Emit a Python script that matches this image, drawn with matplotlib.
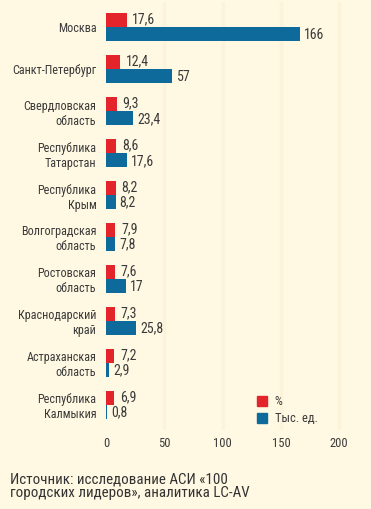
import matplotlib
matplotlib.use("Agg")
import matplotlib.pyplot as plt
import numpy as np
from matplotlib.patches import Patch

regions = ["Москва", "Санкт-Петербург", "Свердловская\nобласть", "Республика\nТатарстан",
           "Республика\nКрым", "Волгоградская\nобласть", "Ростовская\nобласть",
           "Краснодарский\nкрай", "Астраханская\nобласть", "Республика\nКалмыкия"]
pct = [17.6, 12.4, 9.3, 8.6, 8.2, 7.9, 7.6, 7.3, 7.2, 6.9]
units = [166, 57, 23.4, 17.6, 8.2, 7.8, 17, 25.8, 2.9, 0.8]
xticks = [0, 50, 100, 150, 200]
legend_labels = ["%", "Тыс. ед."]
source = "Источник: исследование АСИ «100\nгородских лидеров», аналитика LC-AV"

BG = "#FFF8E2"
RED = "#E3242B"
BLUE = "#0F6A9C"
TXT = "#3a3a3a"
plt.rcParams['font.family'] = ["Roboto Condensed", "DejaVu Sans"]

fig = plt.figure(figsize=(3.71, 5.09), dpi=100, facecolor=BG)
ax = fig.add_axes([106/371, 1 - 430/509, (345-106)/371, 428/509], facecolor=BG)

y = np.arange(len(regions))
h = 0.33
ax.barh(y - h/2, pct, height=h, color=RED, zorder=3)
ax.barh(y + h/2, units, height=h, color=BLUE, zorder=3)

for i, (p, u) in enumerate(zip(pct, units)):
    ax.text(p + 5, i - h/2 - 0.02, f"{p:g}".replace(".", ","), va="center", ha="left",
            fontsize=10, color=TXT)
    ax.text(u + 3.5, i + h/2 + 0.02, f"{u:g}".replace(".", ","), va="center", ha="left",
            fontsize=10, color=TXT)

ax.set_xlim(0, 205)
ax.set_ylim(len(regions) - 1 + 0.6, -0.6)
ax.set_yticks(y)
ax.set_yticklabels(regions, fontsize=8.7, color=TXT, linespacing=1.2)
ax.set_xticks(xticks)
ax.set_xticklabels([str(t) for t in xticks], fontsize=9, color=TXT)
ax.tick_params(length=0, axis="y", pad=7)
ax.tick_params(length=0, axis="x", pad=5)
for s in ax.spines.values():
    s.set_visible(False)
for t in xticks[1:]:
    ax.axvline(t, color="#FDF3DA", lw=2.5, zorder=1)

handles = [Patch(color=RED), Patch(color=BLUE)]
ax.legend(handles, legend_labels, loc="lower left", bbox_to_anchor=(0.585, -0.015),
          frameon=False, fontsize=9, handlelength=0.8, handleheight=0.8,
          handletextpad=0.6, labelspacing=0.3, labelcolor=TXT)

fig.text(10/371, 1 - 473/509, source, ha="left", va="top", fontsize=10.8,
         color="#333333", linespacing=0.9)

fig.savefig("out.png", dpi=100, facecolor=BG)
